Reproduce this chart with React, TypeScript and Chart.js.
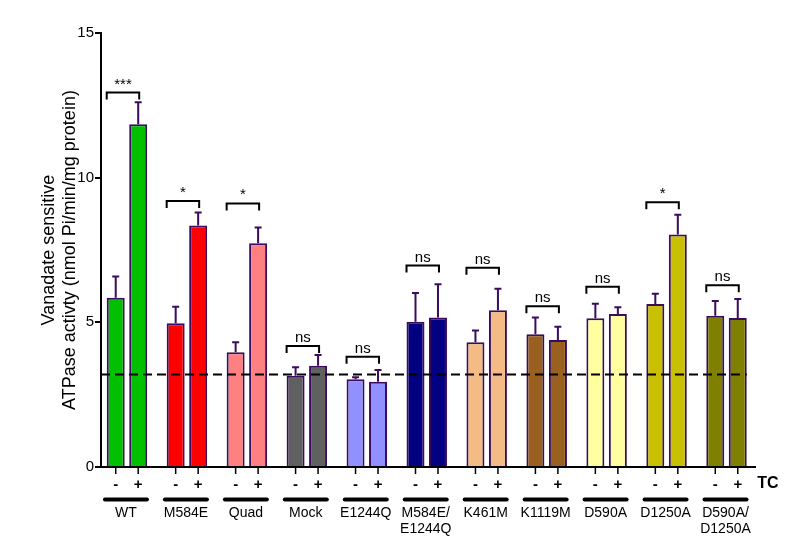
import React, { useEffect, useRef } from 'react';
import { Chart, registerables } from 'chart.js';

Chart.register(...registerables);

const groupLabels: string[][] = [
  ['WT'], ['M584E'], ['Quad'], ['Mock'], ['E1244Q'], ['M584E/', 'E1244Q'],
  ['K461M'], ['K1119M'], ['D590A'], ['D1250A'], ['D590A/', 'D1250A'],
];
const treatmentLabels = ['-', '+'];
const minusValues = [5.85, 4.97, 3.97, 3.15, 3.03, 5.02, 4.31, 4.59, 5.14, 5.63, 5.23];
const plusValues = [11.85, 8.35, 7.73, 3.5, 2.95, 5.17, 5.42, 4.39, 5.29, 8.04, 5.15];
const minusErrors = [0.73, 0.57, 0.34, 0.3, 0.07, 0.99, 0.41, 0.58, 0.5, 0.36, 0.51];
const plusErrors = [0.76, 0.45, 0.55, 0.37, 0.4, 1.15, 0.74, 0.46, 0.23, 0.68, 0.66];
const groupColors = ['#00C000', '#FF0000', '#FF8080', '#606060', '#9090FF', '#000080', '#F4BC84', '#996020', '#FFFFA0', '#C8C000', '#808000'];
const sigLabels = ['***', '*', '*', 'ns', 'ns', 'ns', 'ns', 'ns', 'ns', '*', 'ns'];
const sigHeights = [12.94, 9.19, 9.11, 4.18, 3.81, 6.96, 6.89, 5.56, 6.23, 9.15, 6.28];
const baselineValue = 3.2;
const yTicks = [0, 5, 10, 15];
const yTitle = ['Vanadate sensitive', 'ATPase activty (nmol Pi/min/mg protein)'];
const treatmentName = 'TC';

const FONT = "'Liberation Sans', Arial, sans-serif";
const BORDER = '#3A0B5E';

const annotationPlugin = {
  id: 'annotations',
  afterDatasetsDraw(chart: any) {
    const ctx = chart.ctx as CanvasRenderingContext2D;
    const y = chart.scales.y;
    const area = chart.chartArea;
    const m0 = chart.getDatasetMeta(0).data;
    const m1 = chart.getDatasetMeta(1).data;
    ctx.save();
    // error bars
    ctx.strokeStyle = BORDER;
    ctx.lineWidth = 2;
    const sets: [any[], number[], number[]][] = [[m0, minusValues, minusErrors], [m1, plusValues, plusErrors]];
    sets.forEach(([els, vals, errs]) => {
      els.forEach((el: any, i: number) => {
        const top = y.getPixelForValue(vals[i] + errs[i]);
        ctx.beginPath();
        ctx.moveTo(el.x, el.y);
        ctx.lineTo(el.x, top);
        ctx.moveTo(el.x - 3.5, top);
        ctx.lineTo(el.x + 3.5, top);
        ctx.stroke();
      });
    });
    // dashed baseline
    const by = y.getPixelForValue(baselineValue);
    const last = m1[m1.length - 1];
    ctx.strokeStyle = '#000';
    ctx.setLineDash([9, 5]);
    ctx.beginPath();
    ctx.moveTo(area.left, by);
    ctx.lineTo(last.x + last.width / 2, by);
    ctx.stroke();
    ctx.setLineDash([]);
    // significance brackets
    ctx.fillStyle = '#000';
    ctx.textAlign = 'center';
    ctx.textBaseline = 'alphabetic';
    ctx.font = `15px ${FONT}`;
    sigHeights.forEach((h, i) => {
      const x1 = m0[i].x - m0[i].width / 2;
      const x2 = m1[i].x + 1;
      const yy = y.getPixelForValue(h);
      ctx.beginPath();
      ctx.moveTo(x1, yy + 7);
      ctx.lineTo(x1, yy);
      ctx.lineTo(x2, yy);
      ctx.lineTo(x2, yy + 7);
      ctx.stroke();
      ctx.fillText(sigLabels[i], (x1 + x2) / 2, yy - 4);
    });
    ctx.restore();
  },
  afterDraw(chart: any) {
    const ctx = chart.ctx as CanvasRenderingContext2D;
    const area = chart.chartArea;
    const m0 = chart.getDatasetMeta(0).data;
    const m1 = chart.getDatasetMeta(1).data;
    ctx.save();
    ctx.strokeStyle = '#000';
    ctx.fillStyle = '#000';
    ctx.textAlign = 'center';
    ctx.textBaseline = 'middle';
    [m0, m1].forEach((els: any[], d: number) => {
      els.forEach((el: any) => {
        ctx.lineWidth = 1.5;
        ctx.beginPath();
        ctx.moveTo(el.x, area.bottom);
        ctx.lineTo(el.x, area.bottom + 7);
        ctx.stroke();
        ctx.font = `bold 15px ${FONT}`;
        ctx.fillText(treatmentLabels[d], el.x, area.bottom + 18);
      });
    });
    groupLabels.forEach((lines, i) => {
      const cx = (m0[i].x + m1[i].x) / 2 - 1;
      ctx.lineWidth = 4;
      ctx.lineCap = 'round';
      ctx.beginPath();
      ctx.moveTo(cx - 21, area.bottom + 32.5);
      ctx.lineTo(cx + 21, area.bottom + 32.5);
      ctx.stroke();
      ctx.font = `14px ${FONT}`;
      lines.forEach((t, k) => {
        ctx.fillText(t, cx, area.bottom + 46 + k * 16);
      });
    });
    ctx.font = `bold 16px ${FONT}`;
    ctx.fillText(treatmentName, area.right + 13, area.bottom + 17);
    ctx.restore();
  },
};

export default function App() {
  const ref = useRef<HTMLCanvasElement | null>(null);
  useEffect(() => {
    if (!ref.current) return;
    const mk = (vals: number[]) => vals.map((v, i) => ({ x: i, y: v }));
    const chart = new Chart(ref.current, {
      type: 'bar',
      data: {
        datasets: [
          { label: '-', data: mk(minusValues) as any, backgroundColor: groupColors, borderColor: BORDER, borderWidth: 2, categoryPercentage: 0.75, barPercentage: 0.8 },
          { label: '+', data: mk(plusValues) as any, backgroundColor: groupColors, borderColor: BORDER, borderWidth: 2, categoryPercentage: 0.75, barPercentage: 0.8 },
        ],
      },
      options: {
        responsive: false,
        animation: false,
        layout: { padding: { top: 33, right: 45, left: 0, bottom: 0 } },
        plugins: { legend: { display: false }, tooltip: { enabled: false } },
        scales: {
          x: {
            type: 'linear',
            min: -0.433,
            max: 10.475,
            offset: false,
            ticks: { display: false, stepSize: 1, includeBounds: false } as any,
            grid: { display: false, drawTicks: false },
            border: { display: true, color: '#000', width: 2 },
            afterFit: (s: any) => { s.height = 80; },
          },
          y: {
            min: 0,
            max: 15,
            afterBuildTicks: (s: any) => { s.ticks = yTicks.map((v) => ({ value: v })); },
            ticks: { color: '#000', font: { size: 15, family: FONT }, padding: 1 },
            grid: { drawOnChartArea: false, drawTicks: true, tickLength: 6, color: '#000', lineWidth: 2 },
            border: { color: '#000', width: 2 },
            title: {
              display: true,
              text: yTitle,
              color: '#000',
              font: { size: 18, family: FONT, lineHeight: 1.15 },
              padding: { top: 39, bottom: 0 },
            },
            afterFit: (s: any) => { s.width = 101; },
          },
        },
      },
      plugins: [annotationPlugin],
    });
    return () => chart.destroy();
  }, []);
  return (
    <div style={{ position: 'absolute', left: 0, top: 0, width: 800, height: 547, background: '#fff' }}>
      <canvas ref={ref} width={800} height={547} style={{ display: 'block' }} />
    </div>
  );
}
